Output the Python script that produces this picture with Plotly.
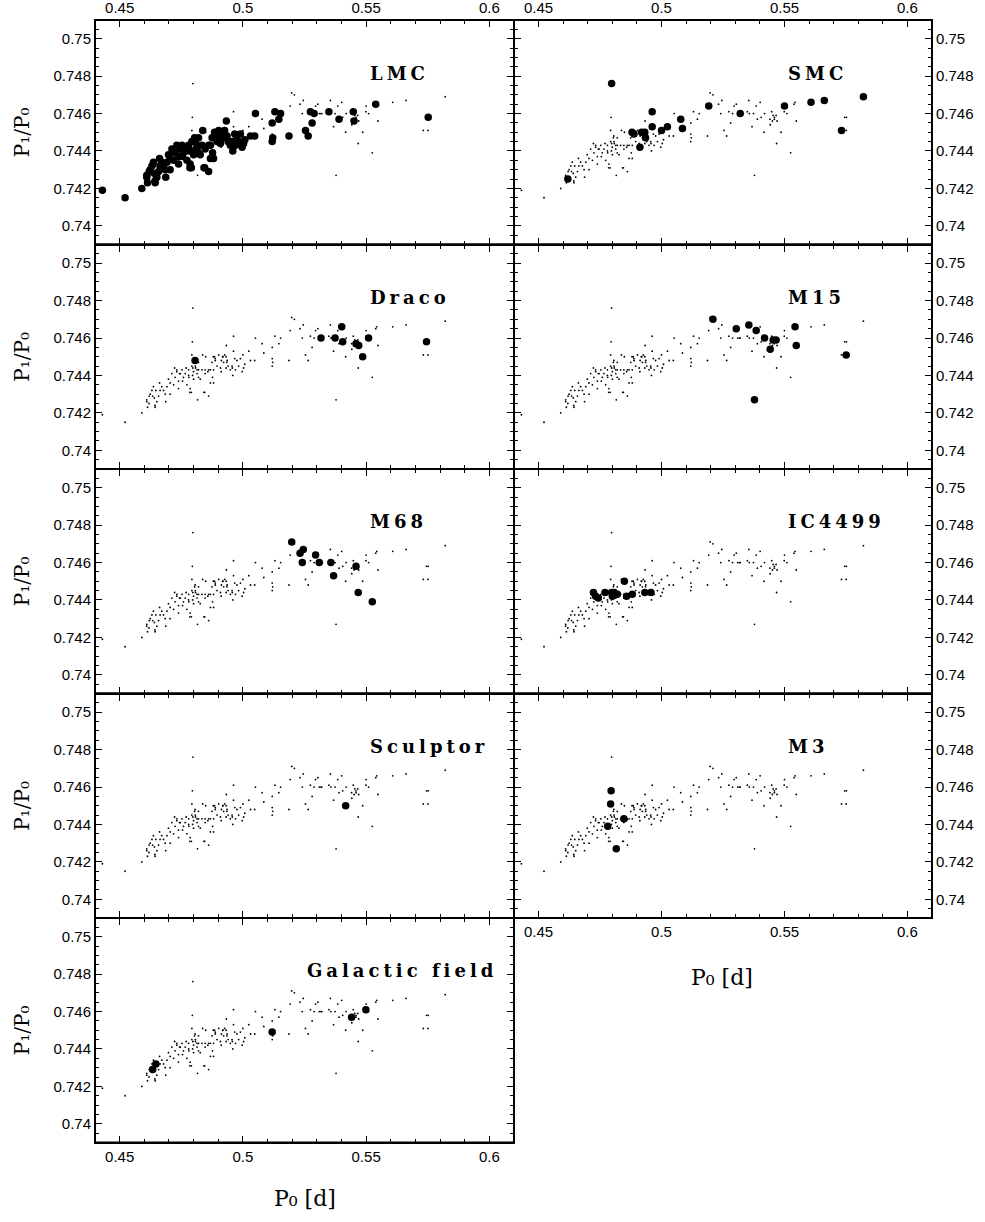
import json
import plotly.graph_objects as go

# ---- period ratios of double-mode RR Lyrae stars, per stellar system ----
# each system: fundamental period P0 [d] and period ratio P1/P0
LMC_P0 = [0.4430, 0.4522, 0.4590, 0.4613, 0.4644, 0.4610, 0.4620, 0.4631, 0.4641, 0.4658,
          0.4662, 0.4687, 0.4678, 0.4692, 0.4698, 0.4705, 0.4719, 0.4725, 0.4739, 0.4746,
          0.4755, 0.4766, 0.4773, 0.4786, 0.4791, 0.4800, 0.4807, 0.4814, 0.4820, 0.4827,
          0.4837, 0.4845, 0.4861, 0.4868, 0.4877, 0.4868, 0.4885, 0.4895, 0.4913, 0.4926,
          0.4933, 0.4940, 0.4949, 0.4959, 0.4967, 0.4983, 0.4997, 0.5008, 0.5048, 0.5051,
          0.5119, 0.5119, 0.5121, 0.5130, 0.5146, 0.5153, 0.5187, 0.5254, 0.5265, 0.5274,
          0.5281, 0.5289, 0.5349, 0.5390, 0.5448, 0.5451, 0.5539, 0.5752,
          0.4671, 0.4712, 0.4732, 0.4753, 0.4780, 0.4793, 0.4804, 0.4814, 0.4780, 0.4759,
          0.4739, 0.4705, 0.4685, 0.4664, 0.4624, 0.4637, 0.4651, 0.4834, 0.4847, 0.4820,
          0.4881, 0.4888, 0.4909, 0.4922, 0.4936, 0.4956, 0.4970, 0.4976, 0.4990, 0.5003,
          0.4875, 0.4902, 0.4918, 0.4861, 0.4796, 0.4842, 0.4785, 0.4610, 0.4643, 0.5031]
LMC_R = [0.7419, 0.7415, 0.7420, 0.7423, 0.7423, 0.7427, 0.7429, 0.7432, 0.7428, 0.7429,
         0.7436, 0.7426, 0.7432, 0.7434, 0.7438, 0.7430, 0.7435, 0.7439, 0.7433, 0.7441,
         0.7437, 0.7441, 0.7435, 0.7433, 0.7431, 0.7438, 0.7445, 0.7441, 0.7447, 0.7438,
         0.7451, 0.7431, 0.7429, 0.7436, 0.7439, 0.7443, 0.7450, 0.7445, 0.7448, 0.7451,
         0.7456, 0.7445, 0.7443, 0.7440, 0.7449, 0.7445, 0.7442, 0.7446, 0.7448, 0.7460,
         0.7455, 0.7445, 0.7447, 0.7461, 0.7457, 0.7460, 0.7448, 0.7451, 0.7448, 0.7461,
         0.7455, 0.7460, 0.7461, 0.7457, 0.7461, 0.7456, 0.7465, 0.7458,
         0.7434, 0.7441, 0.7443, 0.7443, 0.7443, 0.7445, 0.7447, 0.7443, 0.7440, 0.7439,
         0.7437, 0.7436, 0.7430, 0.7432, 0.7430, 0.7434, 0.7426, 0.7443, 0.7441, 0.7439,
         0.7436, 0.7448, 0.7444, 0.7447, 0.7448, 0.7445, 0.7443, 0.7448, 0.7449, 0.7444,
         0.7447, 0.7451, 0.7450, 0.7443, 0.7440, 0.7431, 0.7431, 0.7426, 0.7424, 0.7448]

SMC_P0 = [0.4797, 0.4619, 0.4880, 0.4888, 0.4919, 0.4932, 0.4935, 0.4912, 0.4962, 0.4962,
          0.5000, 0.5024, 0.5078, 0.5085, 0.5192, 0.5320, 0.5500, 0.5608, 0.5662, 0.5821,
          0.5732]
SMC_R = [0.7476, 0.7425, 0.7450, 0.7449, 0.7450, 0.7450, 0.7447, 0.7442, 0.7461, 0.7453,
         0.7451, 0.7453, 0.7457, 0.7452, 0.7464, 0.7460, 0.7464, 0.7466, 0.7467, 0.7469,
         0.7451]

DRACO_P0 = [0.4806, 0.5317, 0.5374, 0.5401, 0.5405, 0.5459, 0.5470, 0.5486, 0.5510, 0.5745]
DRACO_R = [0.7448, 0.7460, 0.7460, 0.7466, 0.7458, 0.7457, 0.7456, 0.7450, 0.7460, 0.7458]

M15_P0 = [0.5209, 0.5304, 0.5355, 0.5385, 0.5419, 0.5454, 0.5466, 0.5442, 0.5543, 0.5548,
          0.5751, 0.5378]
M15_R = [0.7470, 0.7465, 0.7467, 0.7464, 0.7460, 0.7459, 0.7459, 0.7454, 0.7466, 0.7456,
         0.7451, 0.7427]

M68_P0 = [0.5198, 0.5232, 0.5245, 0.5241, 0.5295, 0.5310, 0.5357, 0.5368, 0.5459, 0.5468,
          0.5525]
M68_R = [0.7471, 0.7465, 0.7467, 0.7460, 0.7464, 0.7460, 0.7460, 0.7453, 0.7458, 0.7444,
         0.7439]

IC4499_P0 = [0.4723, 0.4732, 0.4743, 0.4770, 0.4797, 0.4800, 0.4808, 0.4820, 0.4849, 0.4858,
             0.4881, 0.4932, 0.4957]
IC4499_R = [0.7444, 0.7442, 0.7441, 0.7444, 0.7444, 0.7442, 0.7444, 0.7443, 0.7450, 0.7442,
            0.7443, 0.7444, 0.7444]

SCULPTOR_P0 = [0.5417]
SCULPTOR_R = [0.7450]

M3_P0 = [0.4795, 0.4793, 0.4847, 0.4781, 0.4816]
M3_R = [0.7458, 0.7451, 0.7443, 0.7439, 0.7427]

FIELD_P0 = [0.4634, 0.4647, 0.5119, 0.5441, 0.5499]
FIELD_R = [0.7429, 0.7432, 0.7449, 0.7457, 0.7461]

PANEL_NAMES = ["LMC", "SMC", "Draco", "M15", "M68", "IC4499", "Sculptor", "M3",
               "Galactic field"]
PANEL_DATA = [(LMC_P0, LMC_R), (SMC_P0, SMC_R), (DRACO_P0, DRACO_R), (M15_P0, M15_R),
              (M68_P0, M68_R), (IC4499_P0, IC4499_R), (SCULPTOR_P0, SCULPTOR_R),
              (M3_P0, M3_R), (FIELD_P0, FIELD_R)]

X_TICKS = [0.45, 0.5, 0.55, 0.6]
X_TICK_TEXT = ["0.45", "0.5", "0.55", "0.6"]
Y_TICKS = [0.74, 0.742, 0.744, 0.746, 0.748, 0.75]
Y_TICK_TEXT = ["0.74", "0.742", "0.744", "0.746", "0.748", "0.75"]

Y_TITLE = "P\u2081/P\u2080"
X_TITLE = "P\u2080 [d]"

# ---- page geometry (pixels) ----
W, H = 985, 1222
LEFT, MID, RIGHT = 95, 514, 932
TOP, ROW_H = 20, 224.5

ALL_P0 = [v for p0, _ in PANEL_DATA for v in p0]
ALL_R = [v for _, r in PANEL_DATA for v in r]

TICK_FONT = dict(family="Liberation Sans, Arial, sans-serif", size=15, color="black")
SERIF = "DejaVu Serif, Liberation Serif, serif"

fig = go.Figure()
layout = dict(width=W, height=H, margin=dict(l=0, r=0, t=0, b=0),
              paper_bgcolor="white", plot_bgcolor="white", showlegend=False)
annotations = []
shapes = []


def col_domain(c):
    return [LEFT / W, MID / W] if c == 0 else [MID / W, RIGHT / W]


def row_domain(r):
    top = TOP + ROW_H * r
    return [1 - (top + ROW_H) / H, 1 - top / H]


for i, (name, (p0, ratio)) in enumerate(zip(PANEL_NAMES, PANEL_DATA)):
    r, c = divmod(i, 2)
    n = i + 1
    xa = "x" if n == 1 else f"x{n}"
    ya = "y" if n == 1 else f"y{n}"

    # every star of every system as a faint dot
    fig.add_trace(go.Scatter(x=ALL_P0, y=ALL_R, mode="markers", xaxis=xa, yaxis=ya,
                             marker=dict(size=1.8, color="black", line=dict(width=0)),
                             hoverinfo="skip"))
    # the stars of this system
    fig.add_trace(go.Scatter(x=p0, y=ratio, mode="markers", xaxis=xa, yaxis=ya, name=name,
                             marker=dict(size=7.5, color="black", line=dict(width=0))))

    top_labels = r == 0
    bottom_labels = (c == 0 and r == 4) or (c == 1 and r == 3)
    xaxis = dict(domain=col_domain(c), anchor=ya, range=[0.44, 0.61],
                 showline=True, linewidth=1, linecolor="black", mirror="ticks",
                 ticks="inside", ticklen=7, tickwidth=1, tickcolor="black",
                 tickmode="array", tickvals=X_TICKS, ticktext=X_TICK_TEXT,
                 minor=dict(tickmode="linear", tick0=0.44, dtick=0.01, ticks="inside",
                            ticklen=4, tickwidth=1, tickcolor="black"),
                 showgrid=False, zeroline=False, tickfont=TICK_FONT,
                 showticklabels=top_labels or bottom_labels,
                 side="top" if top_labels else "bottom")
    yaxis = dict(domain=row_domain(r), anchor=xa, range=[0.739, 0.751],
                 showline=True, linewidth=1, linecolor="black", mirror="ticks",
                 ticks="inside", ticklen=7, tickwidth=1, tickcolor="black",
                 tickmode="array", tickvals=Y_TICKS, ticktext=Y_TICK_TEXT,
                 minor=dict(tickmode="linear", tick0=0.739, dtick=0.0005, ticks="inside",
                            ticklen=4, tickwidth=1, tickcolor="black"),
                 showgrid=False, zeroline=False, tickfont=TICK_FONT,
                 side="left" if c == 0 else "right")
    layout["xaxis" if n == 1 else f"xaxis{n}"] = xaxis
    layout["yaxis" if n == 1 else f"yaxis{n}"] = yaxis

    # panel frame
    shapes.append(dict(type="rect", xref=f"{xa} domain", yref=f"{ya} domain",
                       x0=0, x1=1, y0=0, y1=1, line=dict(color="black", width=2),
                       fillcolor="rgba(0,0,0,0)", layer="above"))

    # system name inside the panel
    label_x = (305 - LEFT) / (MID - LEFT) if name == "Galactic field" else 273 / 419
    annotations.append(dict(text=name, xref=f"{xa} domain", yref=f"{ya} domain",
                            x=label_x, y=1 - 53 / ROW_H, xanchor="left", yanchor="middle",
                            align="left", showarrow=False,
                            font=dict(family=SERIF, size=18, color="black", weight="bold")))

    if c == 0:
        dom = row_domain(r)
        annotations.append(dict(text=Y_TITLE, xref="paper", yref="paper",
                                x=22 / W, y=(dom[0] + dom[1]) / 2, textangle=-90,
                                xanchor="center", yanchor="middle", showarrow=False,
                                font=dict(family=SERIF, size=20, color="black")))

# period axis titles below the bottom panels of each column
annotations.append(dict(text=X_TITLE, xref="paper", yref="paper",
                        x=305 / W, y=1 - 1198 / H, xanchor="center", yanchor="middle",
                        showarrow=False, font=dict(family=SERIF, size=22, color="black")))
annotations.append(dict(text=X_TITLE, xref="paper", yref="paper",
                        x=722 / W, y=1 - 977 / H, xanchor="center", yanchor="middle",
                        showarrow=False, font=dict(family=SERIF, size=22, color="black")))

layout["annotations"] = annotations
layout["shapes"] = shapes
fig.update_layout(**layout)

# widen the letter spacing of the system names
post = """
var names = %s;
document.querySelectorAll('.annotation-text').forEach(function (t) {
  if (names.indexOf(t.textContent) >= 0) { t.style.letterSpacing = '4px'; }
});
""" % json.dumps(PANEL_NAMES)

fig.write_html("out.html", post_script=post)
